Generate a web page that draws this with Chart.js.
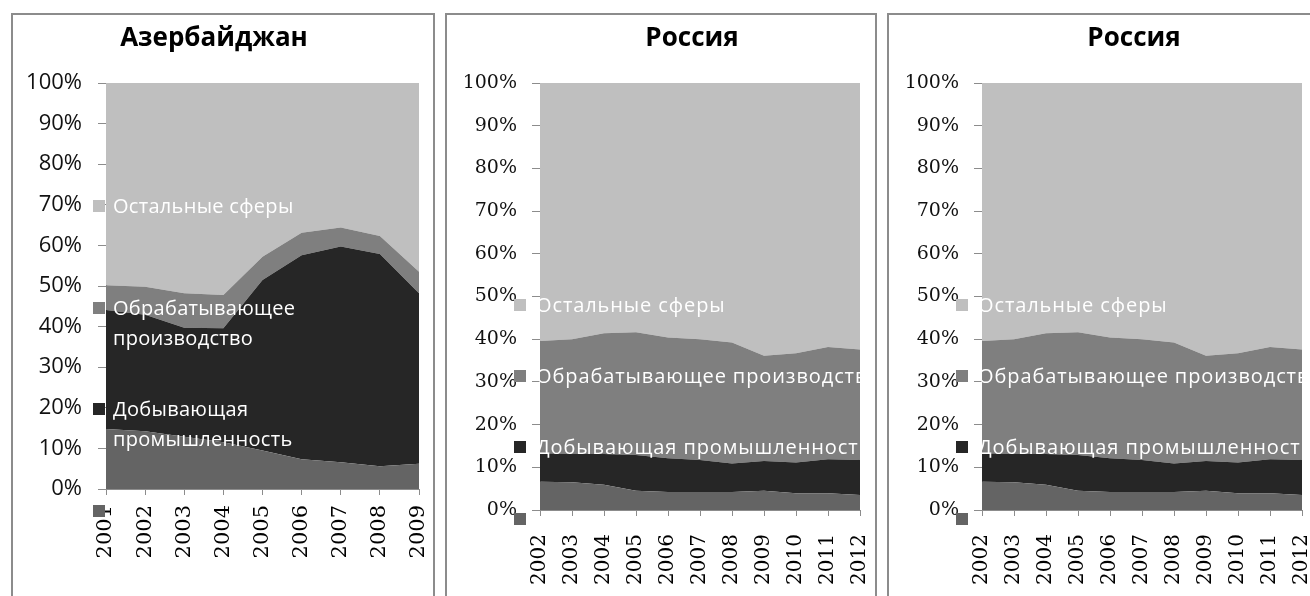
<!DOCTYPE html>
<html>
<head>
<meta charset="utf-8">
<script src="https://cdn.jsdelivr.net/npm/chart.js@4.4.1/dist/chart.umd.min.js"></script>
<style>
  html, body { margin: 0; padding: 0; background: #fff; }
  body { width: 1310px; height: 596px; overflow: hidden; position: relative; }
  .frame { position: absolute; top: 13px; height: 600px; border: 2px solid #8c8c8c; box-sizing: border-box; }
  .cv { position: absolute; top: 0; }
  .title { position: absolute; font-family: "Open Sans"; font-weight: bold; font-size: 26px; line-height: 36px;
           white-space: nowrap; transform: translateX(-50%); color: #000; }
  .legend { position: absolute; overflow: hidden; }
  .sq { position: absolute; left: 0; width: 12px; height: 12px; }
  .txt { position: absolute; color: #fff; font-family: "Open Sans"; font-size: 20px; line-height: 30px; }
</style>
</head>
<body>
<div class="frame" style="left:11px;width:424px"></div>
<div class="frame" style="left:445px;width:432px"></div>
<div class="frame" style="left:887px;width:432px"></div>

<canvas id="chartAz" class="cv" style="left:0px" width="440" height="596"></canvas>
<canvas id="chartRu1" class="cv" style="left:440px" width="440" height="596"></canvas>
<canvas id="chartRu2" class="cv" style="left:882px" width="440" height="596"></canvas>

<div class="title" style="left:214px;top:18px">Азербайджан</div>
<div class="title" style="left:692px;top:18px">Россия</div>
<div class="title" style="left:1134px;top:18px">Россия</div>

<script>
// series names, top of the legend first
const seriesNames = ['Остальные сферы', 'Обрабатывающее производство', 'Добывающая промышленность', ''];
const seriesColors = ['#bfbfbf', '#7f7f7f', '#262626', '#646464'];

// Azerbaijan, shares in %
const azYears  = ['2001', '2002', '2003', '2004', '2005', '2006', '2007', '2008', '2009'];
const azBottom = [14.8, 14.2, 12.9, 11.5, 9.5, 7.3, 6.6, 5.6, 6.2];
const azMining = [29.3, 28.7, 26.8, 28.1, 42.0, 50.3, 53.1, 52.3, 42.0];
const azManuf  = [6.1, 6.9, 8.5, 8.2, 5.7, 5.5, 4.7, 4.4, 5.3];
const azOther  = [49.8, 50.2, 51.8, 52.2, 42.8, 36.9, 35.6, 37.7, 46.5];

// Russia, shares in %
const ruYears  = ['2002', '2003', '2004', '2005', '2006', '2007', '2008', '2009', '2010', '2011', '2012'];
const ruBottom = [6.6, 6.5, 5.9, 4.5, 4.2, 4.2, 4.2, 4.5, 3.9, 3.9, 3.5];
const ruMining = [6.7, 6.6, 7.2, 8.4, 7.9, 7.5, 6.7, 7.0, 7.2, 8.0, 8.2];
const ruManuf  = [26.3, 26.9, 28.3, 28.7, 28.3, 28.3, 28.3, 24.6, 25.6, 26.3, 25.9];
const ruOther  = [60.4, 60.0, 58.6, 58.4, 59.6, 60.0, 60.8, 63.9, 63.3, 61.8, 62.4];

const yTicks = [0, 10, 20, 30, 40, 50, 60, 70, 80, 90, 100];

function buildDatasets(bottom, mining, manuf, other) {
    // stacked from the bottom up
    const layers = [bottom, mining, manuf, other];
    return layers.map((values, i) => ({
        label: seriesNames[3 - i],
        data: values,
        backgroundColor: seriesColors[3 - i],
        borderWidth: 0,
        pointRadius: 0,
        fill: i === 0 ? 'origin' : '-1',
        tension: 0
    }));
}

// Function to render one panel
function renderChart(id, labels, datasets, look) {
    const ctx = document.getElementById(id).getContext('2d');
    return new Chart(ctx, {
        type: 'line',
        data: { labels: labels, datasets: datasets },
        options: {
            responsive: false,
            animation: false,
            layout: { padding: { left: 0, top: look.top, right: look.right, bottom: 0 } },
            plugins: {
                legend: { display: false },
                title: { display: false },
                tooltip: { enabled: false }
            },
            scales: {
                x: {
                    offset: false,
                    afterFit: s => {
                        s.height = look.xHeight;
                        s.paddingLeft = 0;
                        s.paddingRight = 0;
                    },
                    grid: { drawOnChartArea: false, tickLength: 6, color: '#8c8c8c' },
                    border: { color: '#8c8c8c' },
                    ticks: {
                        autoSkip: false, minRotation: 90, maxRotation: 90,
                        padding: look.xPad, color: '#000',
                        font: { family: 'DejaVu Serif', size: look.xFont }
                    }
                },
                y: {
                    stacked: true,
                    min: 0, max: 100,
                    afterFit: s => { s.width = look.yWidth; },
                    afterBuildTicks: s => { s.ticks = yTicks.map(v => ({ value: v })); },
                    grid: { drawOnChartArea: false, tickLength: 8, color: '#8c8c8c' },
                    border: { color: '#8c8c8c' },
                    ticks: {
                        padding: look.yPad, color: '#111',
                        font: { family: look.yFamily, size: look.yFont },
                        callback: v => v + '%'
                    }
                }
            }
        }
    });
}

// Excel-style legend laid over the plot
function renderLegend(chart, canvasLeft, look) {
    const box = document.createElement('div');
    box.className = 'legend';
    box.style.left = (canvasLeft + look.legLeft) + 'px';
    box.style.top = '0px';
    box.style.width = look.legWidth + 'px';
    box.style.height = '596px';
    const items = chart.data.datasets.slice().reverse();
    items.forEach((ds, i) => {
        const sq = document.createElement('div');
        sq.className = 'sq';
        sq.style.top = look.legTops[i] + 'px';
        sq.style.background = ds.backgroundColor;
        box.appendChild(sq);
        if (ds.label) {
            const t = document.createElement('div');
            t.className = 'txt';
            t.textContent = ds.label;
            t.style.left = look.textGap + 'px';
            t.style.top = (look.legTops[i] - 9) + 'px';
            t.style.letterSpacing = look.spacing + 'px';
            t.style.width = look.wrap ? look.wrap + 'px' : 'auto';
            t.style.whiteSpace = look.wrap ? 'normal' : 'nowrap';
            box.appendChild(t);
        }
    });
    document.body.appendChild(box);
}

const azLook = { top: 83, right: 21, xHeight: 107, yWidth: 106, xPad: 10, xFont: 21, yPad: 16,
                 yFamily: 'Open Sans', yFont: 22,
                 legLeft: 93, legWidth: 326, legTops: [200, 302, 403, 505], textGap: 20, wrap: 215, spacing: 0.3 };
const ruLook = { top: 83, right: 20, xHeight: 86, yWidth: 100, xPad: 18, xFont: 20, yPad: 15,
                 yFamily: 'DejaVu Serif', yFont: 19,
                 legLeft: 74, legWidth: 346, legTops: [299, 370, 441, 513], textGap: 22, wrap: 0, spacing: 0.9 };

document.addEventListener('DOMContentLoaded', () => {
    const az = renderChart('chartAz', azYears, buildDatasets(azBottom, azMining, azManuf, azOther), azLook);
    renderLegend(az, 0, azLook);
    const ru1 = renderChart('chartRu1', ruYears, buildDatasets(ruBottom, ruMining, ruManuf, ruOther), ruLook);
    renderLegend(ru1, 440, ruLook);
    const ru2 = renderChart('chartRu2', ruYears, buildDatasets(ruBottom, ruMining, ruManuf, ruOther), ruLook);
    renderLegend(ru2, 882, ruLook);
});
</script>
</body>
</html>
